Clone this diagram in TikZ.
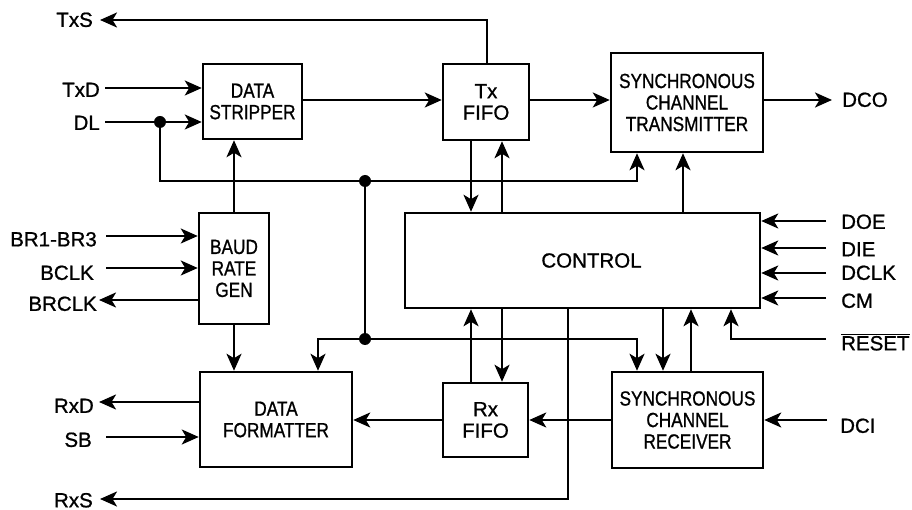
\documentclass[tikz,border=0pt]{standalone}
\usepackage{fontspec}
\setmainfont{Liberation Sans}[FakeBold=0.9]
\newfontfamily\condfont{Liberation Sans}[FakeStretch=0.84,FakeBold=0.9]
\usetikzlibrary{arrows.meta}
\begin{document}
\begin{tikzpicture}[x=1pt,y=-1pt,
  box/.style={draw, line width=2.5pt, rectangle, inner sep=0pt, align=center, font=\condfont\fontsize{20.5}{21.5}\selectfont},
  nbox/.style={box, font=\fontsize{20.5}{21.5}\selectfont},
  sig/.style={inner sep=0pt, font=\fontsize{20.5}{21.5}\selectfont, text height=14.7pt, text depth=0pt},
  wire/.style={line width=2.5pt},
  arr/.style={wire, -{Stealth[length=17pt,width=15pt,inset=4.5pt]}},
  dot/.style={circle, fill, inner sep=0pt, minimum size=12pt}
]
\useasboundingbox (0,0) rectangle (912,510);

% blocks
\node[box, minimum width=99pt, minimum height=75pt] (ds) at (252.5,101.5) {DATA\\STRIPPER};
\node[nbox, minimum width=86pt, minimum height=76pt] (txf) at (486,102) {Tx\\FIFO};
\node[box, minimum width=152pt, minimum height=99pt] (sct) at (687,102.5) {SYNCHRONOUS\\CHANNEL\\TRANSMITTER};
\node[nbox, minimum width=355pt, minimum height=95pt] (ctl) at (582.5,260.5) {\hspace*{18pt}CONTROL};
\node[box, minimum width=70pt, minimum height=111pt] (brg) at (234,268.5) {BAUD\\RATE\\GEN};
\node[box, minimum width=152pt, minimum height=95pt] (df) at (276,419.5) {DATA\\FORMATTER};
\node[nbox, minimum width=85pt, minimum height=74pt] (rxf) at (485.5,420) {Rx\\FIFO};
\node[box, minimum width=151pt, minimum height=96pt] (scr) at (687.5,420) {SYNCHRONOUS\\CHANNEL\\RECEIVER};

% left signal labels
\node[sig, anchor=east] (TxS) at (93,19.5) {TxS};
\node[sig, anchor=east] (TxD) at (100,89.5) {TxD};
\node[sig, anchor=east] (DL) at (100,122.5) {DL};
\node[sig, anchor=east] (BR) at (97,239) {BR1-BR3};
\node[sig, anchor=east] (BCLK) at (94,272.5) {BCLK};
\node[sig, anchor=east] (BRCLK) at (97,303.5) {BRCLK};
\node[sig, anchor=east] (RxD) at (94,405.5) {RxD};
\node[sig, anchor=east] (SB) at (92,439.5) {SB};
\node[sig, anchor=east] (RxS) at (93,500) {RxS};

% right signal labels
\node[sig, anchor=west] (DCO) at (842,99.5) {DCO};
\node[sig, anchor=west] (DOE) at (841,221.5) {DOE};
\node[sig, anchor=west] (DIE) at (841,249) {DIE};
\node[sig, anchor=west] (DCLK) at (841,272.5) {DCLK};
\node[sig, anchor=west] (CM) at (841,300.5) {CM};
\node[sig, anchor=west] (RST) at (841,343) {$\overline{\hbox{RESET}}$};
\node[sig, anchor=west] (DCI) at (840,425.5) {DCI};

% connector end points at the labels
\coordinate (pTxS) at (100,20);
\coordinate (pTxD) at (105,88);
\coordinate (pDL) at (105,122);
\coordinate (pBR) at (106,236);
\coordinate (pBCLK) at (106,268);
\coordinate (pBRCLK) at (99,300);
\coordinate (pRxD) at (99,402);
\coordinate (pSB) at (106,437);
\coordinate (pRxS) at (100,499);
\coordinate (pDCO) at (832,100);
\coordinate (pDOE) at (826,221);
\coordinate (pDIE) at (826,248);
\coordinate (pDCLK) at (826,273);
\coordinate (pCM) at (826,298);
\coordinate (pRST) at (826,339);
\coordinate (pDCI) at (827,420);

% junction dots
\node[dot] (d1) at (160,122) {};
\node[dot] (d2) at (365,181) {};
\node[dot] (d3) at (365,339) {};

% connectors
\draw[arr] (txf.north -| 487,0) -- (487,20) -- (pTxS);
\draw[arr] (pTxD) -- (ds.west |- pTxD);
\draw[arr] (pDL) -- (ds.west |- pDL);
\draw[arr] (d1.center) -- (d1.center |- d2.center) -- (637,181) -- (sct.south -| 637,0);
\draw[arr] (brg.north) -- (ds.south -| brg.north);
\draw[arr] (ds.east |- 0,100) -- (txf.west |- 0,100);
\draw[arr] (txf.east |- 0,100) -- (sct.west |- 0,100);
\draw[arr] (sct.east |- 0,100) -- (pDCO);
\draw[arr] (txf.south -| 471,0) -- (ctl.north -| 471,0);
\draw[arr] (ctl.north -| 502,0) -- (txf.south -| 502,0);
\draw[arr] (ctl.north -| 683,0) -- (sct.south -| 683,0);
\draw[arr] (pDOE) -- (ctl.east |- pDOE);
\draw[arr] (pDIE) -- (ctl.east |- pDIE);
\draw[arr] (pDCLK) -- (ctl.east |- pDCLK);
\draw[arr] (pCM) -- (ctl.east |- pCM);
\draw[arr] (pRST) -- (731,339) -- (ctl.south -| 731,0);
\draw[arr] (pBR) -- (brg.west |- pBR);
\draw[arr] (pBCLK) -- (brg.west |- pBCLK);
\draw[arr] (brg.west |- pBRCLK) -- (pBRCLK);
\draw[arr] (brg.south) -- (df.north -| brg.south);
\draw[wire] (d2.center) -- (d3.center);
\draw[arr] (d3.center) -- (318,339) -- (df.north -| 318,0);
\draw[arr] (d3.center) -- (637,339) -- (scr.north -| 637,0);
\draw[arr] (ctl.south -| 663,0) -- (scr.north -| 663,0);
\draw[arr] (scr.north -| 691,0) -- (ctl.south -| 691,0);
\draw[arr] (rxf.north -| 471,0) -- (ctl.south -| 471,0);
\draw[arr] (ctl.south -| 502,0) -- (rxf.north -| 502,0);
\draw[arr] (ctl.south -| 568,0) -- (568,499) -- (pRxS);
\draw[arr] (scr.west) -- (rxf.east);
\draw[arr] (rxf.west) -- (df.east |- rxf.west);
\draw[arr] (df.west |- pRxD) -- (pRxD);
\draw[arr] (pSB) -- (df.west |- pSB);
\draw[arr] (pDCI) -- (scr.east |- pDCI);
\end{tikzpicture}
\end{document}
